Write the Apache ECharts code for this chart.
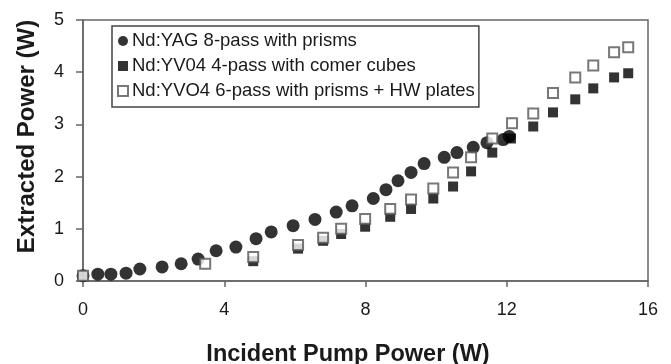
<!DOCTYPE html>
<html>
<head>
<meta charset="utf-8">
<script src="https://cdn.jsdelivr.net/npm/echarts@6/dist/echarts.min.js"></script>
<style>
  html, body { margin: 0; padding: 0; background: #fff; }
  #chart { width: 671px; height: 364px; }
</style>
</head>
<body>
<div id="chart"></div>
<script>
// Extracted power versus incident pump power for three amplifier set-ups
const seriesNames = [
  'Nd:YAG 8-pass with prisms',
  'Nd:YV04 4-pass with comer cubes',
  'Nd:YVO4 6-pass with prisms + HW plates'
];

// Nd:YAG 8-pass: [pump W, extracted W]
const yag8Pass = [
  [0.0, 0.10], [0.42, 0.13], [0.79, 0.13], [1.22, 0.15], [1.61, 0.23],
  [2.24, 0.27], [2.78, 0.33], [3.26, 0.42], [3.77, 0.58], [4.33, 0.65],
  [4.90, 0.81], [5.33, 0.94], [5.95, 1.06], [6.57, 1.18], [7.17, 1.32],
  [7.62, 1.44], [8.22, 1.58], [8.58, 1.75], [8.92, 1.92], [9.29, 2.08],
  [9.66, 2.25], [10.23, 2.37], [10.59, 2.46], [11.05, 2.56], [11.44, 2.65],
  [11.90, 2.71], [12.07, 2.77]
];

// Nd:YVO4 4-pass
const yvo4Pass4 = [
  [4.82, 0.38], [6.09, 0.62], [6.80, 0.77], [7.31, 0.90], [7.99, 1.04],
  [8.70, 1.23], [9.29, 1.38], [9.92, 1.58], [10.48, 1.81], [10.99, 2.10],
  [11.59, 2.46], [12.12, 2.73], [12.75, 2.96], [13.31, 3.23], [13.94, 3.48],
  [14.45, 3.69], [15.04, 3.90], [15.44, 3.98]
];

// Nd:YVO4 6-pass
const yvo4Pass6 = [
  [0.0, 0.10], [3.46, 0.33], [4.82, 0.46], [6.09, 0.69], [6.80, 0.83],
  [7.31, 1.00], [7.99, 1.19], [8.70, 1.38], [9.29, 1.56], [9.92, 1.77],
  [10.48, 2.08], [10.99, 2.37], [11.59, 2.73], [12.15, 3.02], [12.75, 3.21],
  [13.31, 3.60], [13.94, 3.90], [14.45, 4.13], [15.04, 4.38], [15.44, 4.48]
];

const xTicks = { min: 0, max: 16, interval: 4 };
const yTicks = { min: 0, max: 5, interval: 1 };

const chart = echarts.init(document.getElementById('chart'), null, { renderer: 'canvas' });

const axisColor = '#666';
const textColor = '#1a1a1a';
const fontFamily = '"Liberation Sans", Arial, sans-serif';

chart.setOption({
  animation: false,
  backgroundColor: '#fff',
  grid: {
    left: 83, right: 23, top: 20, bottom: 83,
    outerBoundsMode: 'none',
    containLabel: false,
    show: true, borderColor: axisColor, borderWidth: 1.5
  },
  legend: {
    orient: 'vertical',
    left: 112, top: 26,
    padding: [5, 4, 6, 5],
    itemGap: 5,
    itemWidth: 10, itemHeight: 10,
    borderColor: '#444', borderWidth: 1.5,
    backgroundColor: '#fff',
    textStyle: { fontSize: 18.5, lineHeight: 20, color: textColor, fontFamily: fontFamily, padding: [0, 0, 0, -1] },
    data: seriesNames
  },
  xAxis: {
    type: 'value',
    min: xTicks.min, max: xTicks.max, interval: xTicks.interval,
    name: 'Incident Pump Power (W)',
    nameLocation: 'middle', nameGap: 62,
    nameTextStyle: { fontSize: 23.5, fontWeight: 'bold', color: textColor, fontFamily: fontFamily, padding: [0, 35, 0, 0] },
    axisLine: { lineStyle: { color: axisColor, width: 1.5 } },
    axisTick: { inside: false, length: 6, lineStyle: { color: axisColor, width: 1.5 } },
    axisLabel: { fontSize: 18, color: textColor, margin: 20, fontFamily: fontFamily },
    splitLine: { show: false }
  },
  yAxis: {
    type: 'value',
    min: yTicks.min, max: yTicks.max, interval: yTicks.interval,
    name: 'Extracted Power (W)',
    nameLocation: 'middle', nameGap: 44,
    nameTextStyle: { fontSize: 24, fontWeight: 'bold', color: textColor, fontFamily: fontFamily, padding: [0, 0, 0, 28] },
    axisLine: { lineStyle: { color: axisColor, width: 1.5 } },
    axisTick: { inside: false, length: 7, lineStyle: { color: axisColor, width: 1.5 } },
    axisLabel: { fontSize: 18, color: textColor, margin: 19, fontFamily: fontFamily },
    splitLine: { show: false }
  },
  series: [
    {
      name: seriesNames[0],
      type: 'scatter',
      data: yag8Pass,
      symbol: 'circle', symbolSize: 13,
      itemStyle: { color: '#000' },
      z: 2
    },
    {
      name: seriesNames[1],
      type: 'scatter',
      data: yvo4Pass4,
      symbol: 'rect', symbolSize: 10,
      itemStyle: { color: '#000' },
      z: 3
    },
    {
      name: seriesNames[2],
      type: 'scatter',
      data: yvo4Pass6,
      symbol: 'rect', symbolSize: 10,
      itemStyle: { color: '#fff', borderColor: '#555', borderWidth: 2 },
      z: 4
    }
  ]
});
</script>
</body>
</html>
